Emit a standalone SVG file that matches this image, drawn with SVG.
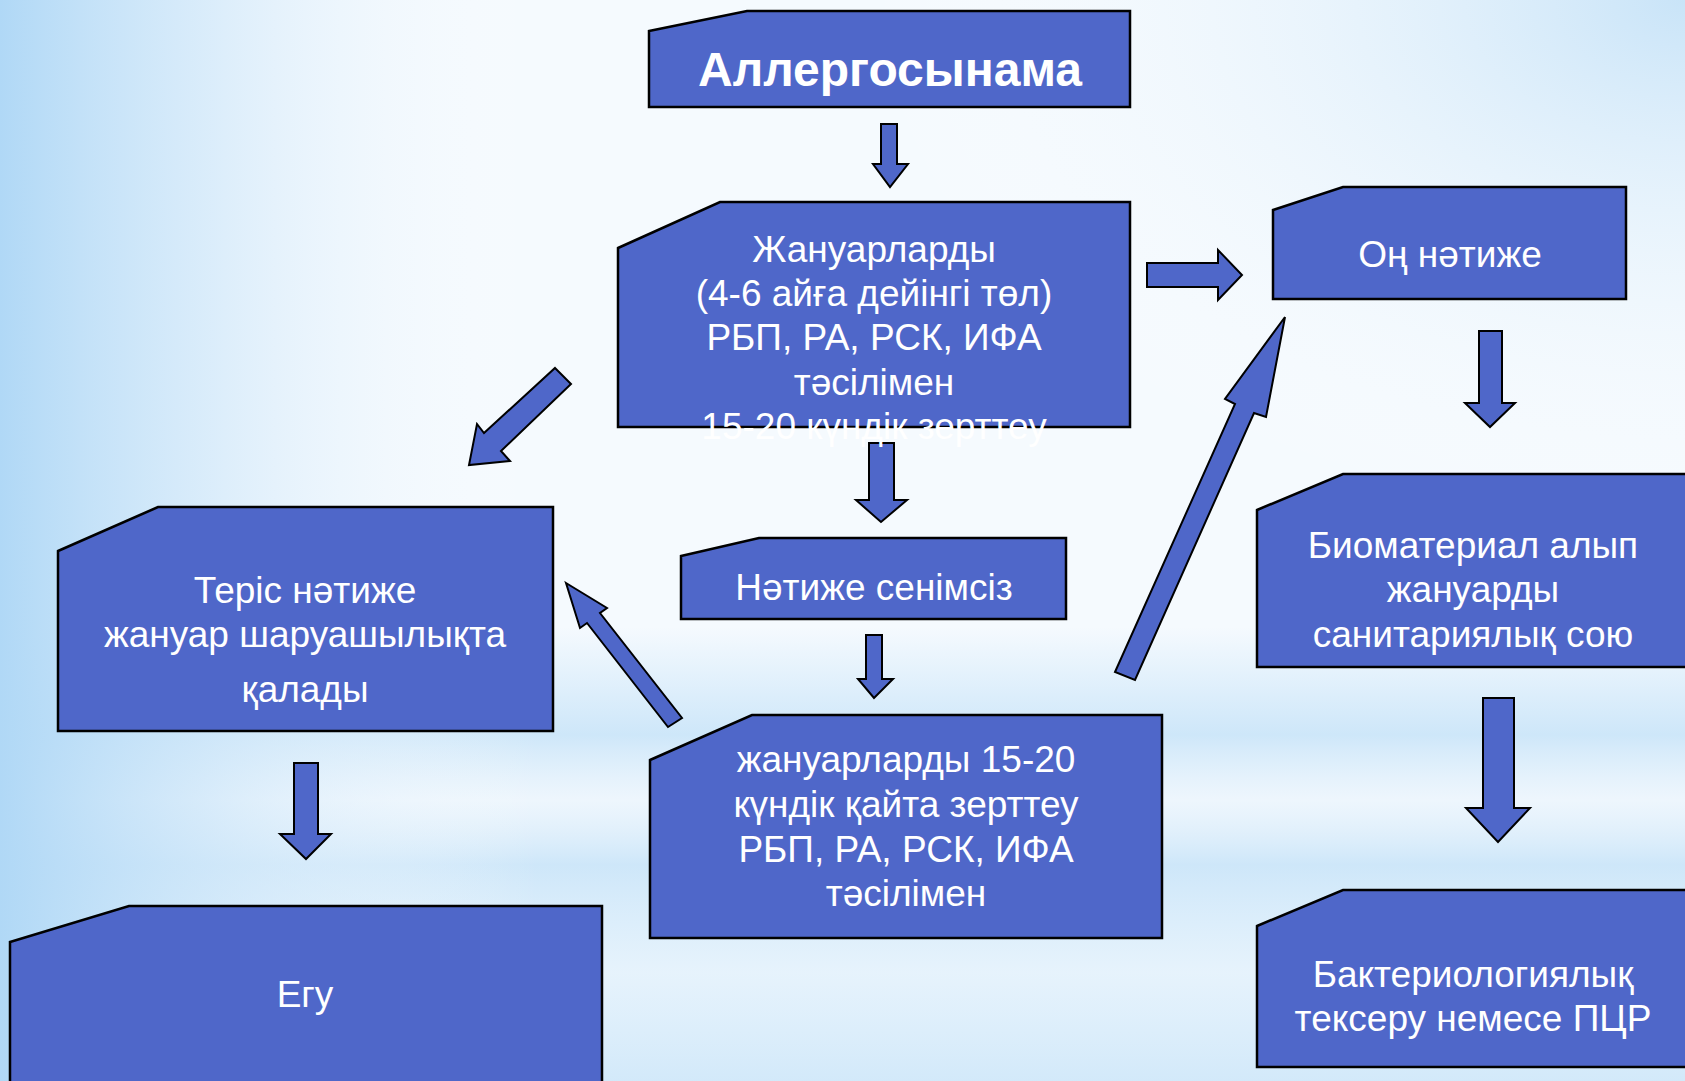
<svg xmlns="http://www.w3.org/2000/svg" width="1685" height="1081" viewBox="0 0 1685 1081">
<defs>
<linearGradient id="bgL" x1="0" y1="0" x2="1" y2="0">
<stop offset="0" stop-color="#B0D8F6" stop-opacity="1"/>
<stop offset="0.12" stop-color="#CDE6F9" stop-opacity="0.7"/>
<stop offset="0.32" stop-color="#FFFFFF" stop-opacity="0"/>
</linearGradient>
<radialGradient id="bgR" cx="1" cy="0" r="0.5">
<stop offset="0" stop-color="#C9E4F8" stop-opacity="1"/>
<stop offset="1" stop-color="#FFFFFF" stop-opacity="0"/>
</radialGradient>
<linearGradient id="bgB" x1="0" y1="0" x2="0" y2="1">
<stop offset="0.58" stop-color="#C4E2F8" stop-opacity="0"/>
<stop offset="0.68" stop-color="#C4E2F8" stop-opacity="0.8"/>
<stop offset="0.74" stop-color="#E6F2FC" stop-opacity="0.5"/>
<stop offset="0.8" stop-color="#C4E2F8" stop-opacity="0.8"/>
<stop offset="0.9" stop-color="#DCEEFB" stop-opacity="0.6"/>
<stop offset="1" stop-color="#C4E2F8" stop-opacity="0.7"/>
</linearGradient>
</defs>
<style>
.box{fill:#4F67C9;stroke:#000;stroke-width:2.5;stroke-linejoin:miter}
.arr{fill:#4F67C9;stroke:#000;stroke-width:2}
.t{font-family:"Liberation Sans",Arial,sans-serif;font-size:37px;fill:#fff;text-anchor:middle}
.tb{font-family:"Liberation Sans",Arial,sans-serif;font-size:48px;font-weight:bold;fill:#fff;text-anchor:middle}
</style>
<rect width="1685" height="1081" fill="#F5FAFE"/>
<rect width="1685" height="1081" fill="url(#bgB)"/>
<rect width="1685" height="1081" fill="url(#bgL)"/>
<rect width="1685" height="1081" fill="url(#bgR)"/>

<g id="connectors">
<polygon class="arr" points="881,124 897,124 897,164 908,164 890,187 873,164 881,164"/>
<polygon class="arr" points="869,443 894,443 894,500 907,500 881,522 856,500 869,500"/>
<polygon class="arr" points="866,635 882,635 882,679 893,679 874,698 858,679 866,679"/>
<polygon class="arr" points="1147,263 1218,263 1218,250 1242,275 1218,300 1218,287 1147,287"/>
<polygon class="arr" points="1479,331 1502,331 1502,403 1515,403 1490,427 1465,403 1479,403"/>
<polygon class="arr" points="1483,698 1514,698 1514,808 1530,808 1498,842 1466,808 1483,808"/>
<polygon class="arr" points="294,763 318,763 318,834 331,834 306,859 280,834 294,834"/>
<polygon class="arr" points="555,368 571,384 501,451 510,461 469,465 477,424 484,433"/>
<polygon class="arr" points="566,583 607,608 600,613 682,718 668,727 587,623 580,628"/>
<polygon class="arr" points="1115,672 1235,404 1225,399 1285,317 1266,417 1254,413 1135,680"/>
</g>

<g id="n-allergo">
<polygon class="box" points="649,31 747,11 1130,11 1130,107 649,107"/>
<text class="tb" x="890" y="86">Аллергосынама</text>
</g>
<g id="n-zhanuar">
<polygon class="box" points="618,248 720,202 1130,202 1130,427 618,427"/>
<text class="t" x="874" y="262">Жануарларды</text>
<text class="t" x="874" y="306">(4-6 айға дейінгі төл)</text>
<text class="t" x="874" y="350">РБП, РА, РСК, ИФА</text>
<text class="t" x="874" y="395">тәсілімен</text>
<text class="t" x="874" y="439">15-20 күндік зерттеу</text>
</g>
<g id="n-on">
<polygon class="box" points="1273,210 1343,187 1626,187 1626,299 1273,299"/>
<text class="t" x="1450" y="267">Оң нәтиже</text>
</g>
<g id="n-bio">
<polygon class="box" points="1257,510 1343,474 1690,474 1690,667 1257,667"/>
<text class="t" x="1473" y="558">Биоматериал алып</text>
<text class="t" x="1473" y="602">жануарды</text>
<text class="t" x="1473" y="647">санитариялық сою</text>
</g>
<g id="n-bakt">
<polygon class="box" points="1257,926 1343,890 1690,890 1690,1067 1257,1067"/>
<text class="t" x="1473" y="987">Бактериологиялық</text>
<text class="t" x="1473" y="1031">тексеру немесе ПЦР</text>
</g>
<g id="n-senimsiz">
<polygon class="box" points="681,556 759,538 1066,538 1066,619 681,619"/>
<text class="t" x="874" y="600">Нәтиже сенімсіз</text>
</g>
<g id="n-qaita">
<polygon class="box" points="650,760 752,715 1162,715 1162,938 650,938"/>
<text class="t" x="906" y="772">жануарларды 15-20</text>
<text class="t" x="906" y="817">күндік қайта зерттеу</text>
<text class="t" x="906" y="862">РБП, РА, РСК, ИФА</text>
<text class="t" x="906" y="906">тәсілімен</text>
</g>
<g id="n-teris">
<polygon class="box" points="58,551 158,507 553,507 553,731 58,731"/>
<text class="t" x="305" y="603">Теріс нәтиже</text>
<text class="t" x="305" y="647">жануар шаруашылықта</text>
<text class="t" x="305" y="702">қалады</text>
</g>
<g id="n-egu">
<polygon class="box" points="10,942 129,906 602,906 602,1090 10,1090"/>
<text class="t" x="305" y="1007">Егу</text>
</g>
</svg>
